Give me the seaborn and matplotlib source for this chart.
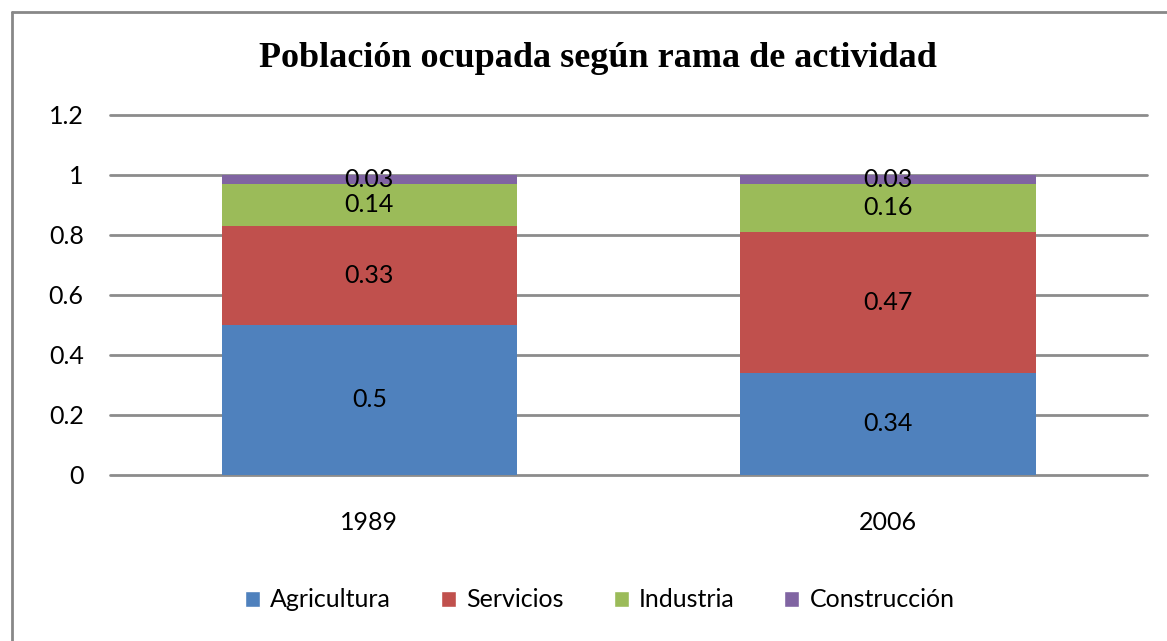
import matplotlib
matplotlib.use("Agg")
import matplotlib.pyplot as plt
import seaborn as sns
import pandas as pd
from matplotlib.patches import Patch

years = ["1989", "2006"]
ramas = ["Agricultura", "Servicios", "Industria", "Construcción"]
agricultura = [0.5, 0.34]
servicios = [0.33, 0.47]
industria = [0.14, 0.16]
construccion = [0.03, 0.03]

colores = ["#4F81BD", "#C0504D", "#9BBB59", "#8064A2"]

sns.set_style("white")
plt.rcParams["font.family"] = ["Lato", "DejaVu Sans"]
plt.rcParams["text.color"] = "black"
plt.rcParams["xtick.color"] = "black"
plt.rcParams["ytick.color"] = "black"

df = pd.DataFrame({"year": years, "Agricultura": agricultura, "Servicios": servicios,
                   "Industria": industria, "Construcción": construccion})

fig = plt.figure(figsize=(11.67, 6.41), dpi=100)
ax = fig.add_axes([0.0943, 0.259, 0.8887, 0.5616])

# stacked bars: draw cumulative totals from top to bottom
cum = df[ramas].cumsum(axis=1)
for rama, col in reversed(list(zip(ramas, colores))):
    sns.barplot(x=df["year"], y=cum[rama], color=col, width=0.57, ax=ax,
                saturation=1, zorder=2, linewidth=0, edgecolor=col)

# labels centered in each segment
for i in range(len(years)):
    bottom = 0
    for rama in ramas:
        v = df[rama][i]
        ax.text(i, bottom + v / 2, f"{v:g}", ha="center", va="center",
                fontsize=18, color="black", zorder=3)
        bottom += v

ax.set_ylim(0, 1.2)
ax.set_yticks([0, 0.2, 0.4, 0.6, 0.8, 1, 1.2])
ax.set_yticklabels(["0", "0.2", "0.4", "0.6", "0.8", "1", "1.2"])
ax.yaxis.grid(True, color="#8c8c8c", linewidth=2)
for gl in ax.get_ygridlines():
    gl.set_clip_on(False)
ax.set_axisbelow(True)
for s in ax.spines.values():
    s.set_visible(False)
ax.tick_params(axis="y", length=0, labelsize=18, pad=19)
ax.tick_params(axis="x", length=0, labelsize=18, pad=26)
ax.set_xlabel("")
ax.set_ylabel("")

fig.text(0.512, 0.909, "Población ocupada según rama de actividad",
         ha="center", va="center", fontsize=26, fontweight="bold",
         family="Liberation Serif")

handles = [Patch(facecolor=c, label=r) for r, c in zip(ramas, colores)]
fig.legend(handles=handles, loc="center", bbox_to_anchor=(0.514, 0.064), ncol=4,
           frameon=False, fontsize=18, handlelength=0.6, handleheight=0.6,
           handletextpad=0.4, columnspacing=2.0)

# partial outer border (left and top visible)
fig.add_artist(plt.Line2D([0.0103, 0.0103], [0, 0.981], color="#888888", linewidth=2))
fig.add_artist(plt.Line2D([0.0103, 1.0], [0.981, 0.981], color="#888888", linewidth=2))

fig.savefig("out.png", dpi=100)
